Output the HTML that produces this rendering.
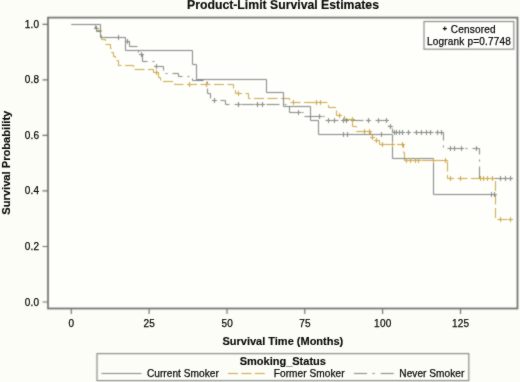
<!DOCTYPE html>
<html><head><meta charset="utf-8"><title>Product-Limit Survival Estimates</title>
<style>
html,body{margin:0;padding:0;background:#FCFDF6;}
body{width:520px;height:382px;overflow:hidden;font-family:"Liberation Sans", sans-serif;}
svg{display:block;}
text{stroke:#0a0a0a;stroke-width:0.25px;}
text.b{stroke-width:0.15px;}
</style></head><body>
<svg width="520" height="382" viewBox="0 0 520 382">
<defs><filter id="f" x="0" y="0" width="520" height="382" filterUnits="userSpaceOnUse" color-interpolation-filters="sRGB"><feConvolveMatrix order="3" kernelMatrix="1 2 1 2 10 2 1 2 1" edgeMode="duplicate"/></filter><filter id="ft" x="0" y="0" width="520" height="382" filterUnits="userSpaceOnUse" color-interpolation-filters="sRGB"><feConvolveMatrix order="3" kernelMatrix="1 2 1 2 30 2 1 2 1" edgeMode="none"/></filter></defs>
<rect x="0" y="0" width="520" height="382" fill="#FCFDF6"/>
<g filter="url(#f)">
<rect x="48" y="17.4" width="469.5" height="291.1" fill="#FEFEFB"/>
<g fill="none" stroke-linejoin="miter" stroke-linecap="butt">
<path d="M71.5 24.5 L95.5 24.5 L95.5 28.5 L96.5 28.5 L96.5 31.5 L100.5 31.5 L100.5 37.5 L125.5 37.5 L125.5 41.5 L129.5 41.5 L129.5 46.5 L138.5 46.5 L138.5 54.5 L142.5 54.5 L142.5 61.5 L154.5 61.5 L154.5 66.5 L163.5 66.5 L163.5 73.5 L178.5 73.5 L178.5 76.5 L192.5 76.5 L192.5 80.5 L207.5 80.5 L207.5 93.5 L210.5 93.5 L210.5 100.5 L225.5 100.5 L225.5 104.5 L289.5 104.5 L289.5 112.5 L304.5 112.5 L304.5 116.5 L324.5 116.5 L324.5 120.5 L388.5 120.5 L388.5 126.5 L392.5 126.5 L392.5 132.5 L443.5 132.5 L443.5 148.5 L479.5 148.5 L479.5 178.5 L512.5 178.5" stroke="#80867e" stroke-width="1.0" stroke-dasharray="13 5 2 5"/>
<path d="M71.5 24.5 L96.5 24.5 L96.5 30.5 L101.5 30.5 L101.5 39.5 L105.5 39.5 L105.5 44.5 L110.5 44.5 L110.5 48.5 L111.5 48.5 L111.5 52.5 L113.5 52.5 L113.5 56.5 L115.5 56.5 L115.5 60.5 L118.5 60.5 L118.5 65.5 L133.5 65.5 L133.5 69.5 L153.5 69.5 L153.5 72.5 L158.5 72.5 L158.5 77.5 L160.5 77.5 L160.5 81.5 L174.5 81.5 L174.5 84.5 L233.5 84.5 L233.5 89.5 L235.5 89.5 L235.5 93.5 L248.5 93.5 L248.5 98.5 L289.5 98.5 L289.5 102.5 L328.5 102.5 L328.5 107.5 L336.5 107.5 L336.5 115.5 L344.5 115.5 L344.5 119.5 L352.5 119.5 L352.5 126.5 L356.5 126.5 L356.5 131.5 L370.5 131.5 L370.5 134.5 L372.5 134.5 L372.5 137.5 L376.5 137.5 L376.5 140.5 L379.5 140.5 L379.5 144.5 L403.5 144.5 L403.5 152.5 L404.5 152.5 L404.5 160.5 L447.5 160.5 L447.5 178.5 L495.5 178.5 L495.5 219.5 L512.5 219.5" stroke="#c9a444" stroke-width="1.0" stroke-dasharray="10 3.5"/>
<path d="M71.5 24.5 L100.5 24.5 L100.5 37.5 L125.5 37.5 L125.5 50.5 L192.5 50.5 L192.5 64.5 L196.5 64.5 L196.5 79.5 L266.5 79.5 L266.5 92.5 L283.5 92.5 L283.5 106.5 L310.5 106.5 L310.5 120.5 L318.5 120.5 L318.5 134.5 L392.5 134.5 L392.5 158.5 L433.5 158.5 L433.5 194.5 L496.5 194.5" stroke="#7f8585" stroke-width="1.0"/>
<path d="M96.5 26.0v5.0M94.0 28.5h5.0M127.5 39.0v5.0M125.0 41.5h5.0M141.5 52.0v5.0M139.0 54.5h5.0M156.5 64.0v5.0M154.0 66.5h5.0M214.5 98.0v5.0M212.0 100.5h5.0M238.5 102.0v5.0M236.0 104.5h5.0M257.5 102.0v5.0M255.0 104.5h5.0M262.5 102.0v5.0M260.0 104.5h5.0M298.5 110.0v5.0M296.0 112.5h5.0M319.5 114.0v5.0M317.0 116.5h5.0M328.5 118.0v5.0M326.0 120.5h5.0M334.5 118.0v5.0M332.0 120.5h5.0M343.5 118.0v5.0M341.0 120.5h5.0M346.5 118.0v5.0M344.0 120.5h5.0M368.5 118.0v5.0M366.0 120.5h5.0M378.5 118.0v5.0M376.0 120.5h5.0M386.5 118.0v5.0M384.0 120.5h5.0M390.5 124.0v5.0M388.0 126.5h5.0M394.5 130.0v5.0M392.0 132.5h5.0M396.5 130.0v5.0M394.0 132.5h5.0M399.5 130.0v5.0M397.0 132.5h5.0M402.5 130.0v5.0M400.0 132.5h5.0M408.5 130.0v5.0M406.0 132.5h5.0M416.5 130.0v5.0M414.0 132.5h5.0M421.5 130.0v5.0M419.0 132.5h5.0M426.5 130.0v5.0M424.0 132.5h5.0M430.5 130.0v5.0M428.0 132.5h5.0M437.5 130.0v5.0M435.0 132.5h5.0M441.5 130.0v5.0M439.0 132.5h5.0M450.5 146.0v5.0M448.0 148.5h5.0M454.5 146.0v5.0M452.0 148.5h5.0M461.5 146.0v5.0M459.0 148.5h5.0M476.5 146.0v5.0M474.0 148.5h5.0M500.5 176.0v5.0M498.0 178.5h5.0M505.5 176.0v5.0M503.0 178.5h5.0M510.5 176.0v5.0M508.0 178.5h5.0" stroke="#80867e" stroke-width="1.0"/>
<path d="M156.5 70.0v5.0M154.0 72.5h5.0M189.5 82.0v5.0M187.0 84.5h5.0M206.5 82.0v5.0M204.0 84.5h5.0M238.5 91.0v5.0M236.0 93.5h5.0M293.5 100.0v5.0M291.0 102.5h5.0M316.5 100.0v5.0M314.0 102.5h5.0M320.5 100.0v5.0M318.0 102.5h5.0M339.5 113.0v5.0M337.0 115.5h5.0M352.5 117.0v5.0M350.0 119.5h5.0M364.5 129.0v5.0M362.0 131.5h5.0M369.5 129.0v5.0M367.0 131.5h5.0M372.5 135.0v5.0M370.0 137.5h5.0M376.5 138.0v5.0M374.0 140.5h5.0M382.5 142.0v5.0M380.0 144.5h5.0M392.5 142.0v5.0M390.0 144.5h5.0M402.5 142.0v5.0M400.0 144.5h5.0M406.5 158.0v5.0M404.0 160.5h5.0M410.5 158.0v5.0M408.0 160.5h5.0M415.5 158.0v5.0M413.0 160.5h5.0M418.5 158.0v5.0M416.0 160.5h5.0M433.5 158.0v5.0M431.0 160.5h5.0M445.5 158.0v5.0M443.0 160.5h5.0M450.5 176.0v5.0M448.0 178.5h5.0M460.5 176.0v5.0M458.0 178.5h5.0M480.5 176.0v5.0M478.0 178.5h5.0M483.5 176.0v5.0M481.0 178.5h5.0M487.5 176.0v5.0M485.0 178.5h5.0M492.5 176.0v5.0M490.0 178.5h5.0M500.5 217.0v5.0M498.0 219.5h5.0M510.5 217.0v5.0M508.0 219.5h5.0" stroke="#c9a444" stroke-width="1.0"/>
<path d="M118.5 35.0v5.0M116.0 37.5h5.0M343.5 132.0v5.0M341.0 134.5h5.0M347.5 132.0v5.0M345.0 134.5h5.0M381.5 132.0v5.0M379.0 134.5h5.0M491.5 192.0v5.0M489.0 194.5h5.0M494.5 192.0v5.0M492.0 194.5h5.0" stroke="#7f8585" stroke-width="1.0"/>
</g>
<rect x="48" y="17.6" width="469.5" height="290.9" fill="none" stroke="#6e706d" stroke-width="1.7"/>
<path d="M42.5 24.3H48M42.5 79.8H48M42.5 135.4H48M42.5 190.9H48M42.5 246.5H48M42.5 302.0H48M71.3 308.5V314M149.1 308.5V314M227.0 308.5V314M304.8 308.5V314M382.6 308.5V314M460.5 308.5V314" stroke="#6e706d" stroke-width="1.15" fill="none"/>
<rect x="424" y="21.5" width="89.8" height="27.7" fill="none" stroke="#8c8c8a" stroke-width="1.2"/>
<rect x="97" y="353.6" width="371.8" height="27" fill="none" stroke="#8c8c8a" stroke-width="1.2"/>
<path d="M101.5 373.5H141.5" stroke="#7f8585" stroke-width="1.0"/>
<path d="M228 373.5H268" stroke="#c9a444" stroke-width="1.0" stroke-dasharray="10 3.4"/>
<path d="M354 373.5H394" stroke="#80867e" stroke-width="1.0" stroke-dasharray="13 5.4 2.3 6"/>
</g>
<g filter="url(#ft)" font-family="Liberation Sans" fill="#0a0a0a">
<text x="283" y="9.1" text-anchor="middle" class="b" font-weight="bold" font-size="12.25">Product-Limit Survival Estimates</text>
<g font-size="10" letter-spacing="0.25">
<text x="39.3" y="27.8" text-anchor="end">1.0</text>
<text x="39.3" y="83.3" text-anchor="end">0.8</text>
<text x="39.3" y="138.9" text-anchor="end">0.6</text>
<text x="39.3" y="194.4" text-anchor="end">0.4</text>
<text x="39.3" y="250.0" text-anchor="end">0.2</text>
<text x="39.3" y="305.5" text-anchor="end">0.0</text>
<text x="71.5" y="326.8" text-anchor="middle">0</text>
<text x="149.3" y="326.8" text-anchor="middle">25</text>
<text x="227.2" y="326.8" text-anchor="middle">50</text>
<text x="305.0" y="326.8" text-anchor="middle">75</text>
<text x="382.8" y="326.8" text-anchor="middle">100</text>
<text x="460.7" y="326.8" text-anchor="middle">125</text>
</g>
<text x="282.85" y="345.2" text-anchor="middle" class="b" font-weight="bold" font-size="11">Survival Time (Months)</text>
<text transform="translate(9.7 162.7) rotate(-90)" x="0" y="0" text-anchor="middle" class="b" font-weight="bold" font-size="11.15">Survival Probability</text>
<path d="M444.8 26.6v4M442.8 28.6h4" stroke="#0a0a0a" stroke-width="1.1"/>
<g font-size="10" letter-spacing="0.2">
<text x="450.8" y="32.5">Censored</text>
<text x="427.0" y="45.3">Logrank p=0.7748</text>
</g>
<text x="282.8" y="364.5" text-anchor="middle" class="b" font-weight="bold" font-size="11">Smoking_Status</text>
<g font-size="10.1" letter-spacing="0.05">
<text x="146.9" y="376.8">Current Smoker</text>
<text x="273.8" y="376.8">Former Smoker</text>
<text x="399.3" y="376.8">Never Smoker</text>
</g>
</g>
</svg>
</body></html>
